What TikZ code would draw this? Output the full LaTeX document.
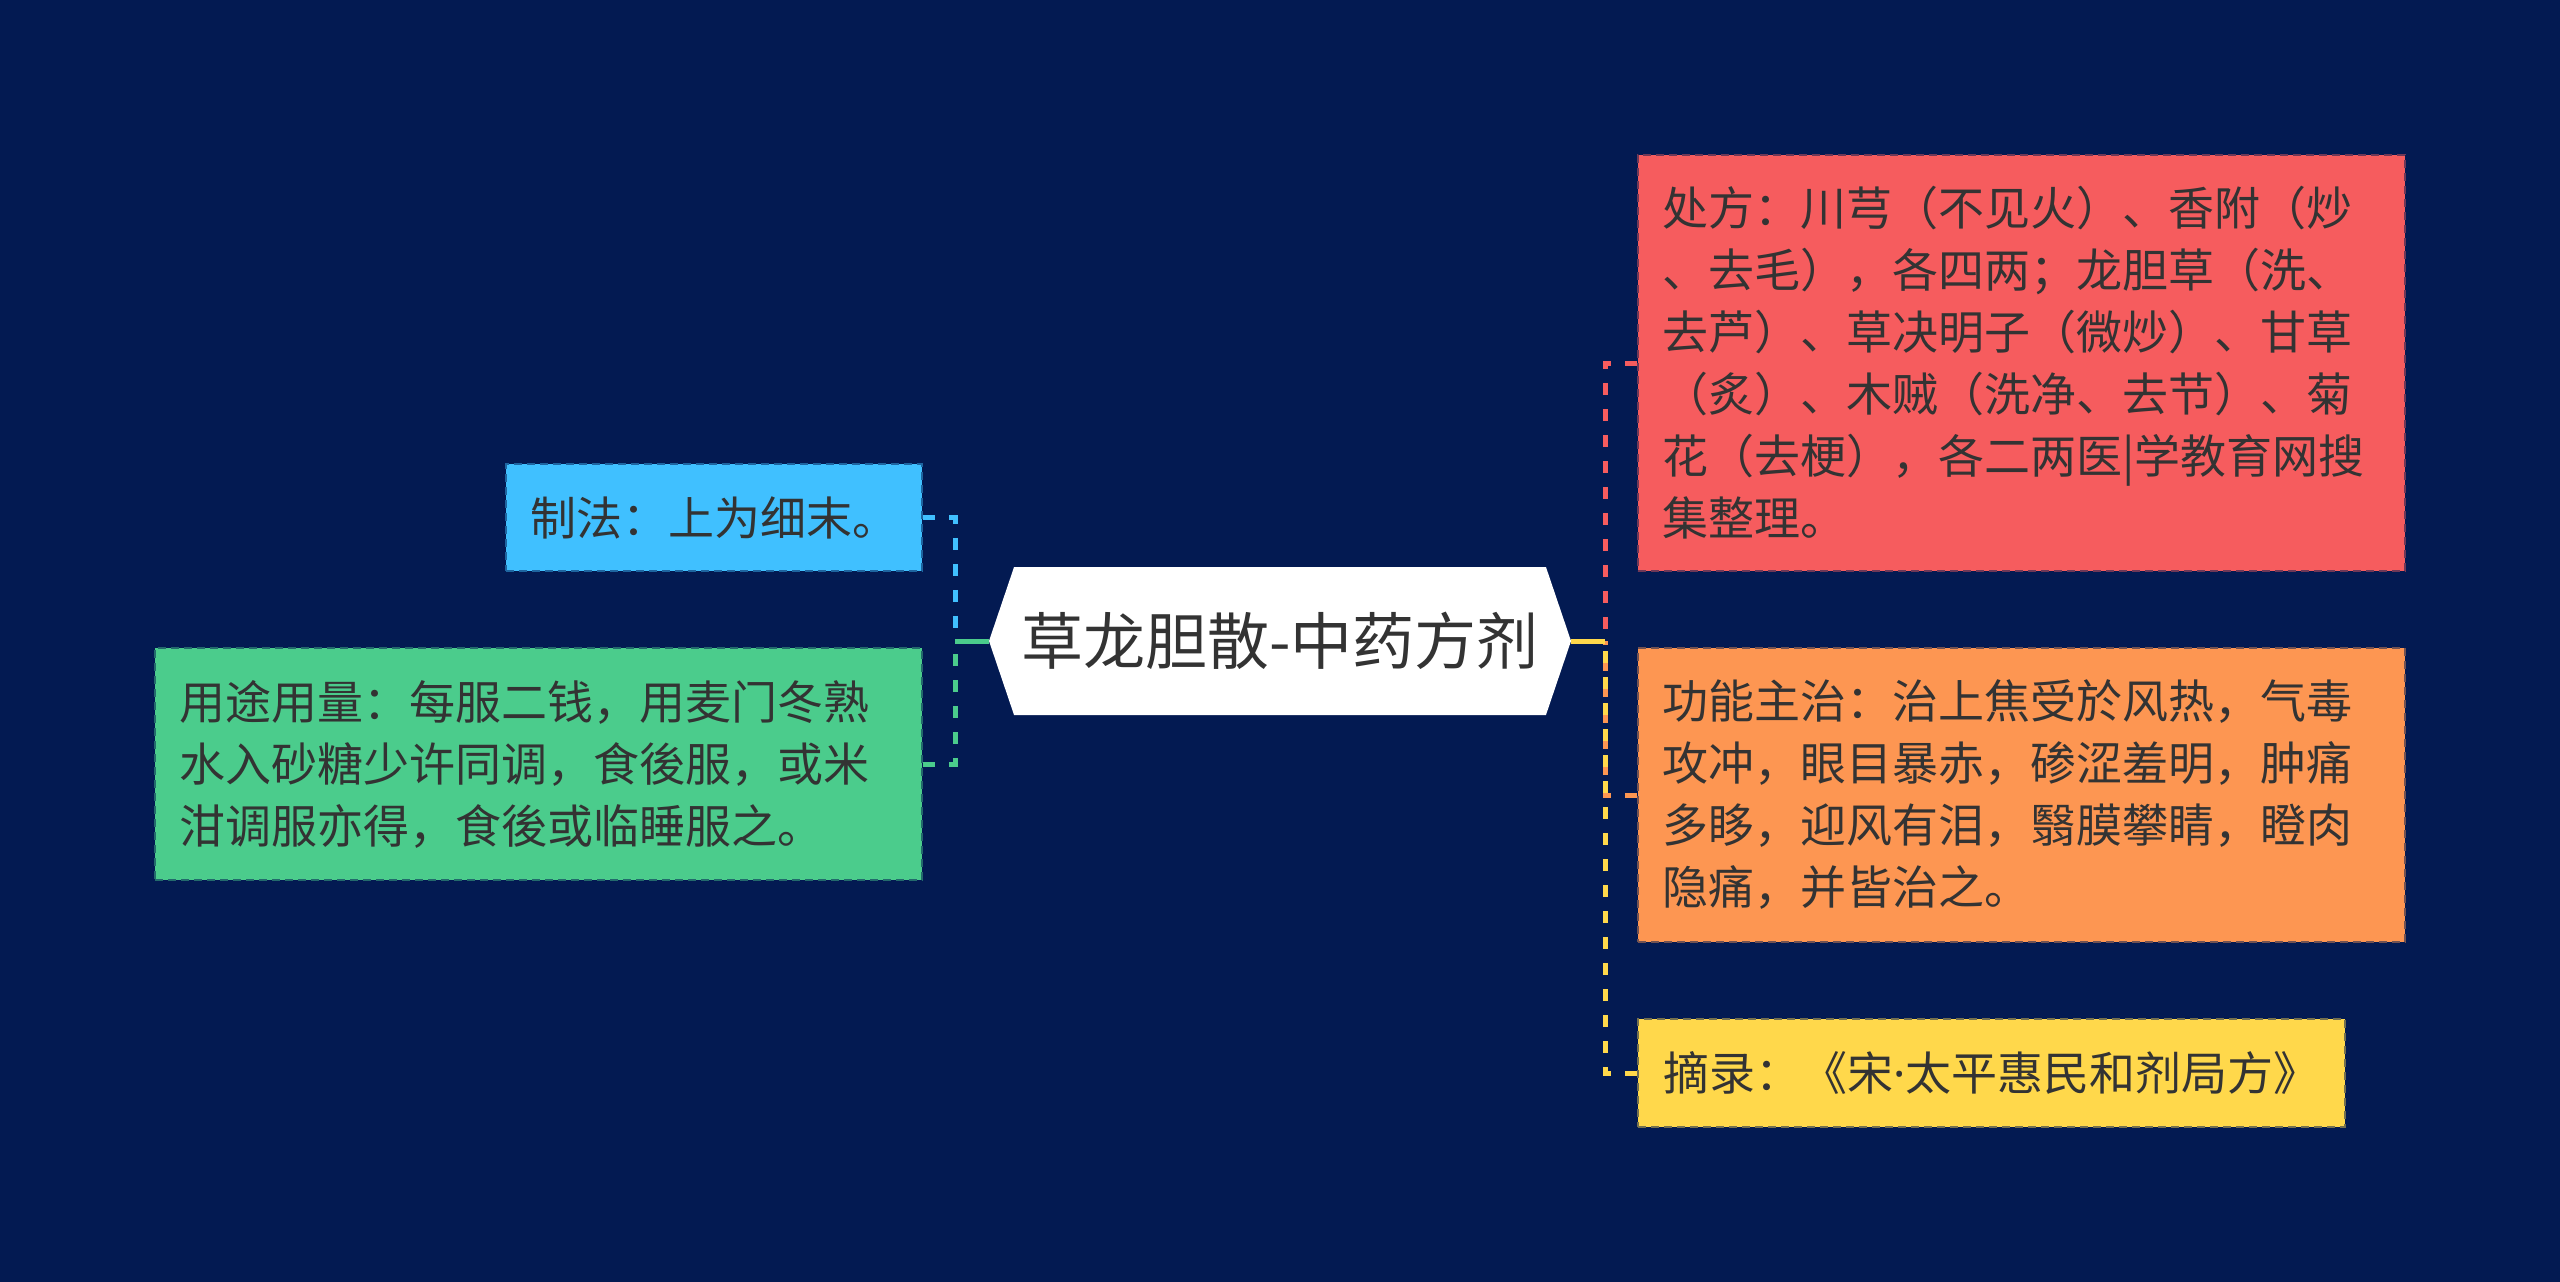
\documentclass[tikz,border=0pt]{standalone}
\usepackage{fontspec}
\newfontfamily\cjk{Noto Sans CJK SC}
\newfontfamily\latinf{Noto Sans}
\usetikzlibrary{shapes.symbols}
\definecolor{bg}{HTML}{031A52}
\definecolor{txt}{HTML}{333333}
\definecolor{cblue}{HTML}{40C0FF}
\definecolor{cgreen}{HTML}{4BCC8C}
\definecolor{cred}{HTML}{F65C5E}
\definecolor{corange}{HTML}{FD9652}
\definecolor{cyellow}{HTML}{FFD84B}
\begin{document}
\begin{tikzpicture}[x=1pt,y=-1pt,
  box/.style={rectangle, inner xsep=24pt, inner ysep=0pt, align=left, text=txt,
    font=\cjk\fontsize{46}{62}\selectfont, line width=2.5pt, dash pattern=on 8pt off 5pt},
  conn/.style={line width=5pt, dash pattern=on 12pt off 14pt},
  stubline/.style={line width=5pt}]
\fill[bg] (0,0) rectangle (2560,1282);
\useasboundingbox (0,0) rectangle (2560,1282);

\node[signal, signal to=west and east, signal pointer angle=142.6, fill=white,
  minimum width=582pt, minimum height=148pt, inner sep=0pt,
  font=\cjk\fontsize{62}{70}\selectfont, text=txt] (c) at (1280,641) {草龙胆散-中药方剂};

\node[box, fill=cblue, draw=cblue!45!bg, minimum width=416pt, minimum height=107pt] (b1) at (714,517.5) {制法：上为细末。};
\node[box, fill=cgreen, draw=cgreen!45!bg, text width=719pt, minimum height=232pt] (b2) at (538.5,764)
  {用途用量：每服二钱，用麦门冬熟\\水入砂糖少许同调，食後服，或米\\泔调服亦得，食後或临睡服之。};

\node[box, fill=cred, draw=cred!45!bg, text width=719pt, minimum height=416pt] (r1) at (2021.5,363)
  {处方：川芎（不见火）、香附（炒\\、去毛），各四两；龙胆草（洗、\\去芦）、草决明子（微炒）、甘草\\（炙）、木贼（洗净、去节）、菊\\花（去梗），各二两医|学教育网搜\\集整理。};
\node[box, fill=corange, draw=corange!45!bg, text width=719pt, minimum height=294pt] (r2) at (2021.5,795)
  {功能主治：治上焦受於风热，气毒\\攻冲，眼目暴赤，碜涩羞明，肿痛\\多眵，迎风有泪，翳膜攀睛，瞪肉\\隐痛，并皆治之。};
\node[box, fill=cyellow, draw=cyellow!45!bg, minimum width=707pt, minimum height=108pt] (r3) at (1991.5,1073)
  {摘录：《宋{\latinf·}太平惠民和剂局方》};

\coordinate (lj) at (955,641);
\coordinate (rj) at (1605,641);
\draw[conn, cblue] (b1.east) -| (lj);
\draw[conn, cgreen] (b2.east) -| (lj);
\draw[stubline, cgreen] (c.west) -- (lj);
\draw[conn, cred] (r1.west) -| (rj);
\draw[conn, corange] (r2.west) -| (rj);
\draw[conn, cyellow] (r3.west) -| (rj);
\draw[stubline, cyellow] (c.east) -- (rj);
\end{tikzpicture}
\end{document}
